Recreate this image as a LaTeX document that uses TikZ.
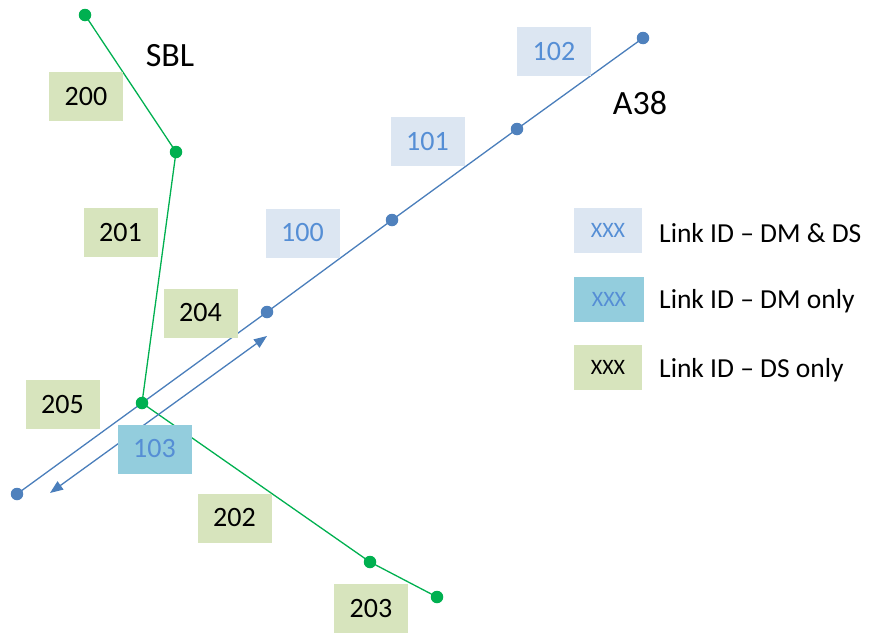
\documentclass[tikz,border=0pt]{standalone}
\usepackage{fontspec}
\setmainfont{Carlito}
\usetikzlibrary{arrows.meta,backgrounds}
\definecolor{roadblue}{HTML}{4A7EBB}
\definecolor{dotblue}{HTML}{4F81BD}
\definecolor{labelblue}{HTML}{558ED5}
\definecolor{roadgreen}{HTML}{00B050}
\definecolor{fillboth}{HTML}{DCE6F2}
\definecolor{filldm}{HTML}{93CDDD}
\definecolor{fillds}{HTML}{D7E4BD}
\tikzset{
  bdot/.style={circle,fill=dotblue,inner sep=0pt,minimum size=12.5pt},
  gdot/.style={circle,fill=roadgreen,inner sep=0pt,minimum size=12.5pt},
  bline/.style={draw=roadblue,line width=1.3pt},
  gline/.style={draw=roadgreen,line width=1.3pt},
  idbox/.style={inner sep=0pt,minimum width=74pt,minimum height=49pt,font=\fontsize{28}{32}\selectfont},
  bothbox/.style={idbox,fill=fillboth,text=labelblue},
  dmbox/.style={idbox,fill=filldm,text=labelblue},
  dsbox/.style={idbox,fill=fillds,text=black},
  keybox/.style={inner sep=0pt,minimum width=68pt,minimum height=45pt,font=\fontsize{22}{26}\selectfont},
  keytext/.style={anchor=west,inner sep=0pt,font=\fontsize{27.5}{32}\selectfont},
  roadname/.style={inner sep=0pt,font=\fontsize{34}{38}\selectfont}
}
\begin{document}
\begin{tikzpicture}[x=1pt,y=-1pt]
\useasboundingbox (0,0) rectangle (869,632);

% junctions of the A38 (blue) and the SBL (green)
\node[bdot] (b0) at (17,494) {};
\node[bdot] (b1) at (267,312) {};
\node[bdot] (b2) at (392,220) {};
\node[bdot] (b3) at (517,129) {};
\node[bdot] (b4) at (643,38) {};
\node[gdot] (g0) at (85,15) {};
\node[gdot] (g1) at (176,152) {};
\node[gdot] (g2) at (142,403) {};
\node[gdot] (g3) at (370,562) {};
\node[gdot] (g4) at (437,597) {};
\coordinate (a1) at (50,493);
\coordinate (a2) at (267,336);

% links, kept behind the junction dots
\begin{pgfonlayer}{background}
\draw[bline] (b0.center) -- (b1.center) -- (b2.center) -- (b3.center) -- (b4.center);
\draw[gline] (g0.center) -- (g1.center) -- (g2.center) -- (g3.center) -- (g4.center);
\draw[bline,{Triangle[length=13pt,width=10pt]}-{Triangle[length=13pt,width=10pt]}] (a1) -- (a2);
\end{pgfonlayer}

% link ids
\node[dsbox] (l200) at (86,96.5) {200};
\node[dsbox] (l201) at (120.5,232.5) {201};
\node[dsbox] (l204) at (200.5,313) {204};
\node[dsbox] (l205) at (62.5,404.5) {205};
\node[dmbox] (l103) at (154.5,449) {103};
\node[dsbox] (l202) at (234.5,518) {202};
\node[dsbox] (l203) at (371,608.5) {203};
\node[bothbox] (l100) at (302.5,233) {100};
\node[bothbox] (l101) at (427.5,141.5) {101};
\node[bothbox] (l102) at (554,51.5) {102};

% road names
\node[roadname] (sbl) at (170,56) {SBL};
\node[roadname] (a38) at (640,103) {A38};

% key
\node[keybox,fill=fillboth,text=labelblue] (k1) at (608,230.5) {XXX};
\node[keybox,fill=filldm,text=labelblue,minimum width=70pt] (k2) at (609,299) {XXX};
\node[keybox,fill=fillds,text=black] (k3) at (608,367) {XXX};
\node[keytext] (t1) at (659,233) {Link ID – DM \& DS};
\node[keytext] (t2) at (659,301) {Link ID – DM only};
\node[keytext] (t3) at (659,370) {Link ID – DS only};
\end{tikzpicture}
\end{document}
